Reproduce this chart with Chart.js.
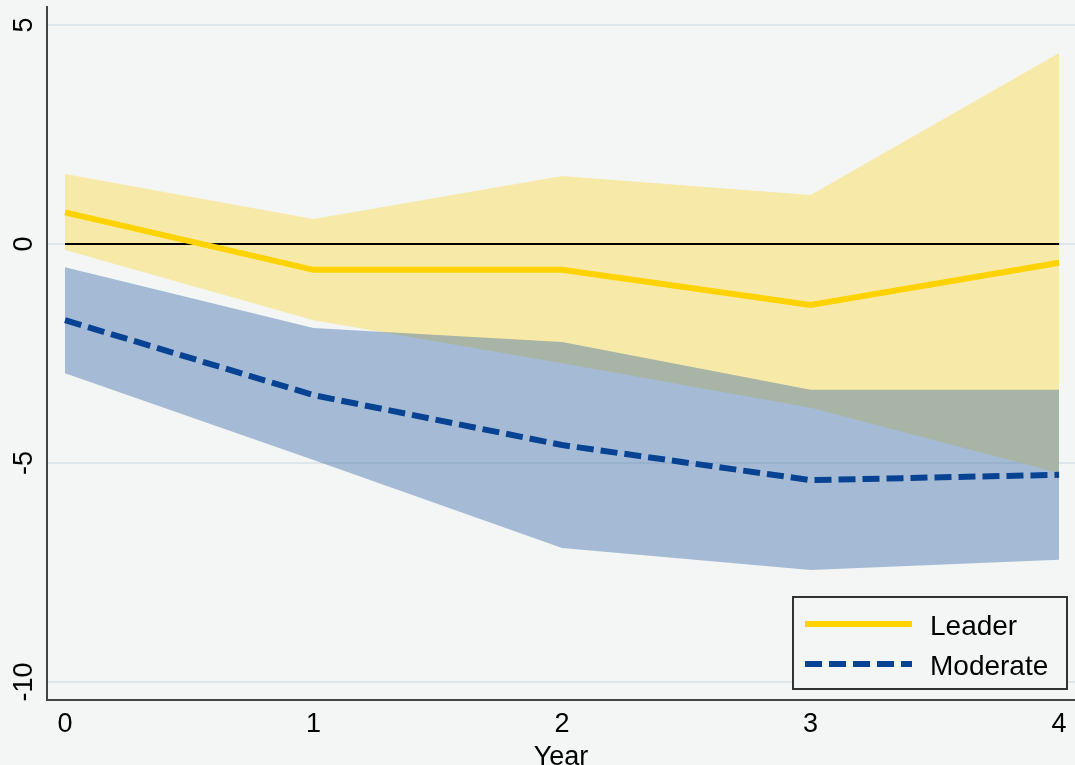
<!DOCTYPE html>
<html lang="en">
  <head>
    <meta charset="utf-8">
    <title>Leader vs Moderate</title>
    <script src="https://cdn.jsdelivr.net/npm/chart.js@4.4.1/dist/chart.umd.min.js"></script>
    <style>
      body { margin: 0; background: #f4f6f6; }
      #wrap { width: 1075px; height: 765px; position: relative; }
    </style>
  </head>
  <body>
    <div id="wrap"><canvas id="myChart"></canvas></div>
    <script>
      // data
      const years = [0, 1, 2, 3, 4];
      const leader = [0.72, -0.59, -0.59, -1.39, -0.43];
      const leaderHi = [1.60, 0.57, 1.55, 1.12, 4.36];
      const leaderLo = [-0.14, -1.74, -2.72, -3.74, -5.23];
      const moderate = [-1.74, -3.45, -4.59, -5.39, -5.27];
      const moderateHi = [-0.53, -1.92, -2.24, -3.33, -3.33];
      const moderateLo = [-2.95, -4.93, -6.94, -7.44, -7.21];
      const zeroLine = [0, 0, 0, 0, 0];
      const xTicks = [0, 1, 2, 3, 4];
      const yTicks = [-10, -5, 0, 5];
      const legendNames = ['Leader', 'Moderate'];

      const font = "'Liberation Sans', Arial, sans-serif";
      const pts = arr => years.map((x, i) => ({x: x, y: arr[i]}));

      const gold = 'rgb(255,210,0)';
      const navy = 'rgb(8,66,146)';

      // y tick labels (rotated) + legend box, drawn after the chart
      const extras = {
        id: 'extras',
        afterDraw(chart) {
          const ctx = chart.ctx;
          const y = chart.scales.y;
          const area = chart.chartArea;
          ctx.save();
          ctx.fillStyle = '#000';
          ctx.font = '27px ' + font;
          ctx.textAlign = 'center';
          ctx.textBaseline = 'middle';
          yTicks.forEach(v => {
            ctx.save();
            ctx.translate(25, y.getPixelForValue(v));
            ctx.rotate(-Math.PI / 2);
            ctx.fillText(String(v), 0, 0);
            ctx.restore();
          });

          // legend
          const w = 274, h = 92;
          const left = area.right - 8 - w, top = area.bottom - 11 - h;
          ctx.fillStyle = '#f4f6f6';
          ctx.fillRect(left, top, w, h);
          ctx.strokeStyle = '#333';
          ctx.lineWidth = 2;
          ctx.strokeRect(left, top, w, h);
          ctx.font = '28px ' + font;
          const rows = [
            {name: legendNames[0], color: gold, dash: []},
            {name: legendNames[1], color: navy, dash: [17, 7]}
          ];
          rows.forEach((r, i) => {
            const ly = top + 27 + i * 40;
            ctx.beginPath();
            ctx.setLineDash(r.dash);
            ctx.strokeStyle = r.color;
            ctx.lineWidth = 6;
            ctx.moveTo(left + 12, ly);
            ctx.lineTo(left + 119, ly);
            ctx.stroke();
            ctx.setLineDash([]);
            ctx.fillStyle = '#000';
            ctx.textAlign = 'left';
            ctx.fillText(r.name, left + 137, ly + 3);
          });
          ctx.restore();
        }
      };

      new Chart(document.getElementById('myChart'), {
        type: 'line',
        data: {
          datasets: [
            {label: 'Leader', data: pts(leader), borderColor: gold, borderWidth: 6,
             pointRadius: 0, fill: false, order: 0, borderCapStyle: 'butt'},
            {label: 'Moderate', data: pts(moderate), borderColor: navy, borderWidth: 6,
             borderDash: [17, 7], pointRadius: 0, fill: false, order: 0},
            {label: 'zero', data: pts(zeroLine), borderColor: '#000', borderWidth: 2,
             pointRadius: 0, fill: false, order: 1},
            {label: 'modHi', data: pts(moderateHi), borderWidth: 0, pointRadius: 0,
             backgroundColor: 'rgba(42,96,162,0.39)', fill: '+1', order: 2},
            {label: 'modLo', data: pts(moderateLo), borderWidth: 0, pointRadius: 0,
             fill: false, order: 2},
            {label: 'leadHi', data: pts(leaderHi), borderWidth: 0, pointRadius: 0,
             backgroundColor: 'rgb(247,234,168)', fill: '+1', order: 3},
            {label: 'leadLo', data: pts(leaderLo), borderWidth: 0, pointRadius: 0,
             fill: false, order: 3}
          ]
        },
        options: {
          responsive: true,
          maintainAspectRatio: false,
          animation: false,
          layout: { padding: { top: 7, right: 0, left: 0, bottom: 0 } },
          plugins: { legend: { display: false }, tooltip: { enabled: false } },
          scales: {
            x: {
              type: 'linear',
              min: -0.0724,
              max: 4.064,
              afterBuildTicks: s => { s.ticks = xTicks.map(v => ({value: v})); },
              afterFit: s => { s.height = 65; },
              grid: { display: false, drawTicks: false },
              border: { display: true, color: '#444', width: 2 },
              ticks: { color: '#000', font: { family: font, size: 27 }, padding: 8, maxRotation: 0 },
              title: { display: true, text: 'Year', color: '#000',
                       font: { family: font, size: 27 }, padding: { top: 0, bottom: -9 } }
            },
            y: {
              min: -10.41,
              max: 5.41,
              afterBuildTicks: s => { s.ticks = yTicks.map(v => ({value: v})); },
              afterFit: s => { s.width = 47; },
              grid: { color: '#dfe6ea', lineWidth: 2, drawTicks: false },
              border: { display: true, color: '#444', width: 2 },
              ticks: { display: false }
            }
          }
        },
        plugins: [extras]
      });
    </script>
  </body>
</html>
